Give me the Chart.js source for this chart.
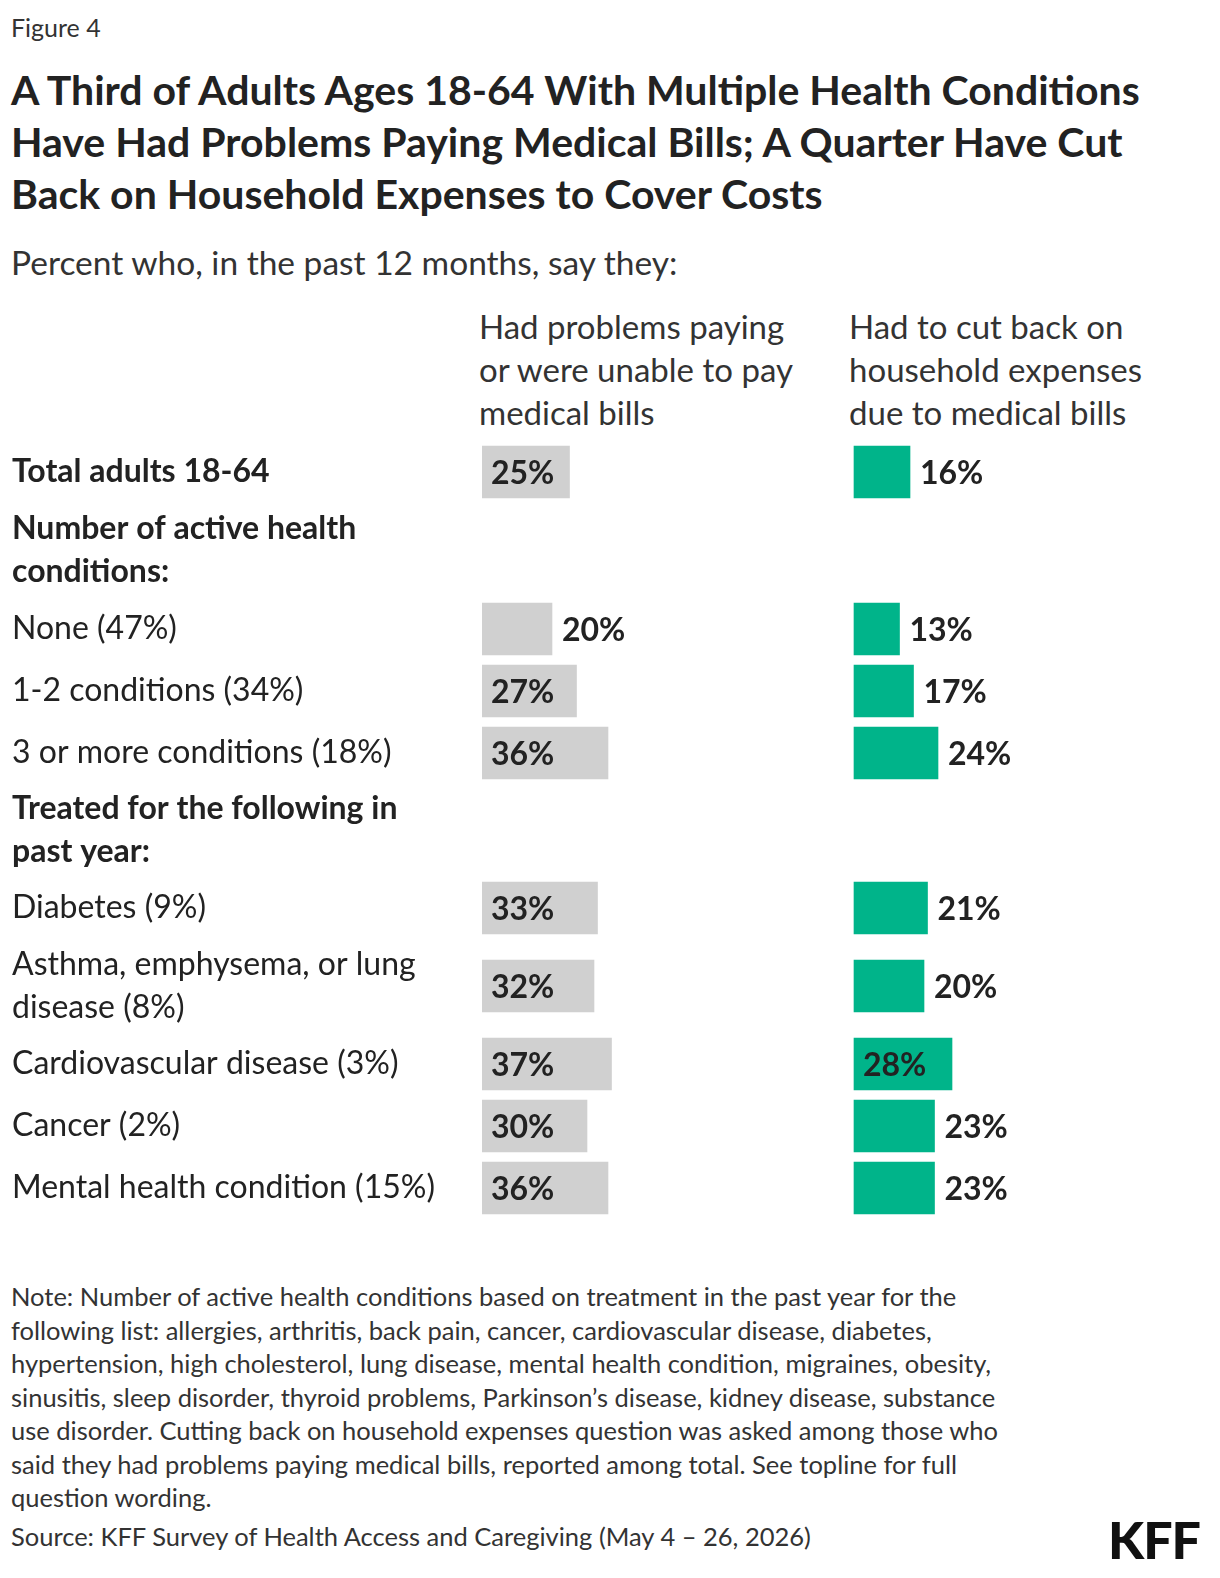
<!DOCTYPE html>
<html><head><meta charset="utf-8">
<script src="https://cdn.jsdelivr.net/npm/chart.js@4"></script>
<style>
body{margin:0;background:#fff;font-family:Lato,"Noto Sans",sans-serif;color:#222;width:1220px;height:1578px;position:relative;overflow:hidden}
.abs{position:absolute}
#fig{left:11px;top:12px;font-size:25px;color:#333}
#title{left:11px;top:64px;width:1175px;font-size:41px;font-weight:700;line-height:52px;color:#222}
#sub{left:11px;top:242px;font-size:33.5px;color:#333}
.colh{top:305px;font-size:33px;line-height:43px;color:#333}
#note{left:11px;top:1280px;width:1026px;font-size:25.5px;line-height:33.5px;color:#333}
#src{left:11px;top:1521px;font-size:25.5px;color:#333}
#kff{left:1108px;top:1508px;font-size:52px;font-weight:900;letter-spacing:-1px;color:#111}
#chart{left:0;top:441px}
</style></head><body>
<div class="abs" id="fig">Figure 4</div>
<div class="abs" id="title">A Third of Adults Ages 18-64 With Multiple Health Conditions Have Had Problems Paying Medical Bills; A Quarter Have Cut Back on Household Expenses to Cover Costs</div>
<div class="abs" id="sub">Percent who, in the past 12 months, say they:</div>
<div class="abs colh" style="left:479px">Had problems paying<br>or were unable to pay<br>medical bills</div>
<div class="abs colh" style="left:849px">Had to cut back on<br>household expenses<br>due to medical bills</div>
<canvas class="abs" id="chart" width="1220" height="778"></canvas>
<div class="abs" id="note">Note: Number of active health conditions based on treatment in the past year for the following list: allergies, arthritis, back pain, cancer, cardiovascular disease, diabetes, hypertension, high cholesterol, lung disease, mental health condition, migraines, obesity, sinusitis, sleep disorder, thyroid problems, Parkinson’s disease, kidney disease, substance use disorder. Cutting back on household expenses question was asked among those who said they had problems paying medical bills, reported among total. See topline for full question wording.</div>
<div class="abs" id="src">Source: KFF Survey of Health Access and Caregiving (May 4 – 26, 2026)</div>
<div class="abs" id="kff">KFF</div>
<script>
// rows (null value = section header)
const rowLabels = [
  ["Total adults 18-64"],
  ["Number of active health", "conditions:"],
  ["None (47%)"],
  ["1-2 conditions (34%)"],
  ["3 or more conditions (18%)"],
  ["Treated for the following in", "past year:"],
  ["Diabetes (9%)"],
  ["Asthma, emphysema, or lung", "disease (8%)"],
  ["Cardiovascular disease (3%)"],
  ["Cancer (2%)"],
  ["Mental health condition (15%)"]
];
const boldRows = [true, true, false, false, false, true, false, false, false, false, false];
const payingBills = [25, null, 20, 27, 36, null, 33, 32, 37, 30, 36];
const cutBack = [16, null, 13, 17, 24, null, 21, 20, 28, 23, 23];

// layout: slot height of each row in px
const slotHeights = [62, 95, 62, 62, 62, 93, 62, 94, 62, 62, 62];
const PX_PER_UNIT = 3.5;
const RIGHT_OFFSET = 372 / PX_PER_UNIT;
const totalH = slotHeights.reduce((a, b) => a + b, 0);
const centers = [];
slotHeights.reduce((acc, h) => { centers.push(acc + h / 2); return acc + h; }, 0);

const leftData = [], rightData = [];
payingBills.forEach((v, i) => { if (v !== null) leftData.push({x: [0, v], y: centers[i], v: v}); });
cutBack.forEach((v, i) => { if (v !== null) rightData.push({x: [RIGHT_OFFSET, RIGHT_OFFSET + v], y: centers[i], v: v}); });

const FONT = 'Lato, "Noto Sans", sans-serif';

const labelsPlugin = {
  id: 'labels',
  afterDatasetsDraw(chart) {
    const ctx = chart.ctx;
    const yScale = chart.scales.y;
    ctx.save();
    ctx.textBaseline = 'middle';
    ctx.fillStyle = '#222';
    rowLabels.forEach((lines, i) => {
      ctx.font = (boldRows[i] ? '700 ' : '400 ') + '32px ' + FONT;
      const cy = yScale.getPixelForValue(centers[i]);
      lines.forEach((t, j) => {
        const off = (j - (lines.length - 1) / 2) * 43;
        ctx.fillText(t, 12, cy + off);
      });
    });
    ctx.font = '700 32px ' + FONT;
    chart.data.datasets.forEach((ds, di) => {
      const meta = chart.getDatasetMeta(di);
      meta.data.forEach((bar, k) => {
        const d = ds.data[k];
        const start = Math.min(bar.base, bar.x), end = Math.max(bar.base, bar.x);
        const inside = d.v >= ds.insideMin;
        const x = inside ? start + 9 : end + 10;
        ctx.fillText(d.v + '%', x, bar.y + 2);
      });
    });
    ctx.restore();
  }
};

new Chart(document.getElementById('chart'), {
  type: 'bar',
  data: {
    datasets: [
      {data: leftData, backgroundColor: '#d0d0d0', barThickness: 52, grouped: false, insideMin: 22},
      {data: rightData, backgroundColor: '#00b48a', barThickness: 52, grouped: false, insideMin: 26}
    ]
  },
  options: {
    indexAxis: 'y',
    responsive: false,
    animation: false,
    layout: {padding: {left: 482, right: 3, top: 0, bottom: 0}},
    plugins: {legend: {display: false}, tooltip: {enabled: false}},
    scales: {
      x: {type: 'linear', min: 0, max: 210, offset: false, display: false, grid: {display: false}},
      y: {type: 'linear', min: 0, max: totalH, reverse: true, offset: false, display: false, grid: {display: false}}
    }
  },
  plugins: [labelsPlugin]
});
</script>
</body></html>
